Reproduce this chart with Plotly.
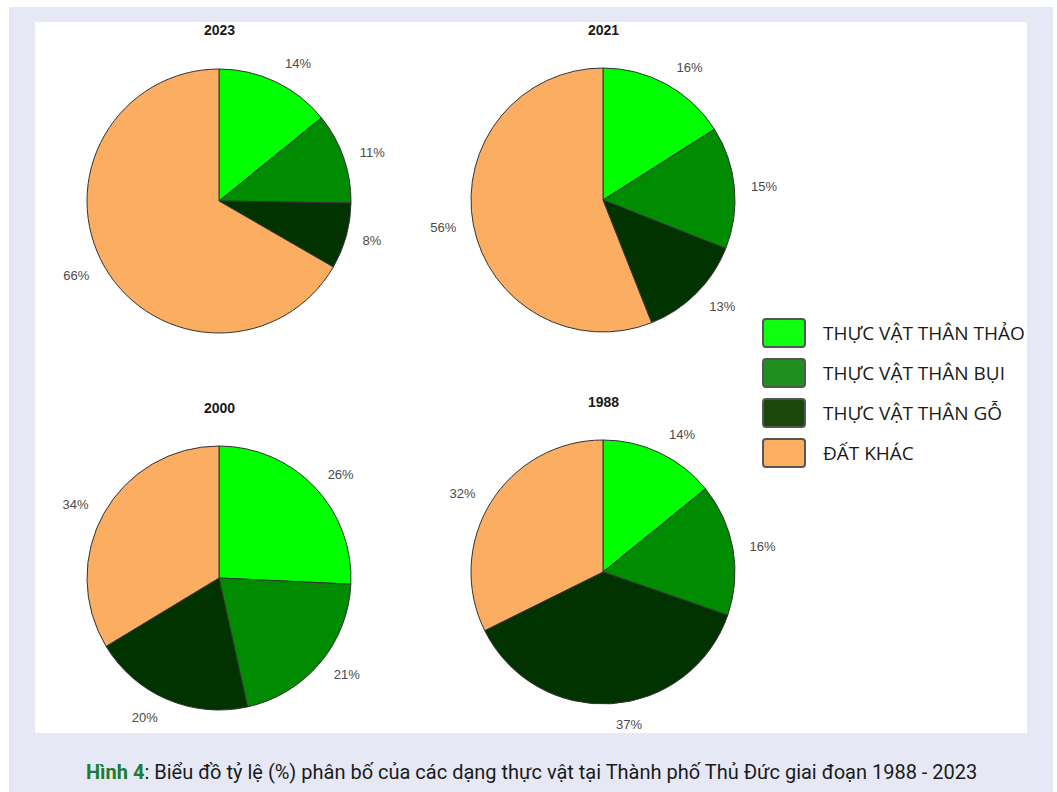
import plotly.graph_objects as go

W, H = 1057, 792

# ---------------- data ----------------
categories = ["THỰC VẬT THÂN THẢO", "THỰC VẬT THÂN BỤI", "THỰC VẬT THÂN GỖ", "ĐẤT KHÁC"]
years = ["2023", "2021", "2000", "1988"]
values_2023 = [14, 11, 8, 66]
values_2021 = [16, 15, 13, 56]
values_2000 = [26, 21, 20, 34]
values_1988 = [14, 16, 37, 32]
caption_bold = "Hình 4"
caption_rest = ": Biểu đồ tỷ lệ (%) phân bố của các dạng thực vật tại Thành phố Thủ Đức giai đoạn 1988 - 2023"

# ---------------- styles / layout ----------------
slice_colors = ["#00ff00", "#008b00", "#003300", "#fbad62"]
legend_colors = ["#10ff10", "#1f8f1f", "#1a470a", "#fdae60"]
bg_color = "#e6e9f5"
series = {"2023": values_2023, "2021": values_2021, "2000": values_2000, "1988": values_1988}
centers = {"2023": (219, 201), "2021": (603, 200), "2000": (219, 578), "1988": (603, 572)}
title_y = {"2023": 30, "2021": 30, "2000": 408, "1988": 402}
R = 132          # pie radius (px)
R_LABEL = 145    # radius of the invisible label ring (px)


def px_x(x):
    return x / W


def px_y(y):
    return 1 - y / H


def dom(cx, cy, r):
    return dict(x=[px_x(cx - r), px_x(cx + r)], y=[px_y(cy + r), px_y(cy - r)])


fig = go.Figure()

for yr in years:
    cx, cy = centers[yr]
    vals = series[yr]
    # visible pie
    fig.add_trace(go.Pie(
        labels=categories,
        values=vals,
        textinfo="none",
        sort=False,
        direction="clockwise",
        rotation=0,
        marker=dict(colors=slice_colors, line=dict(color="#333333", width=1)),
        domain=dom(cx, cy, R),
        showlegend=False,
        hovertemplate="%{label}: %{value}%<extra>" + yr + "</extra>",
        name=yr,
    ))
    # transparent ring carrying the outside percentage labels
    fig.add_trace(go.Pie(
        labels=categories,
        values=vals,
        text=[f"{v}%" for v in vals],
        textinfo="text",
        textposition="outside",
        sort=False,
        direction="clockwise",
        rotation=0,
        marker=dict(colors=["rgba(0,0,0,0)"] * len(vals), line=dict(width=0)),
        textfont=dict(family="Liberation Sans, Arial", size=13, color="#4a4a4a"),
        domain=dom(cx, cy, R_LABEL),
        showlegend=False,
        hoverinfo="skip",
        name=yr + " labels",
    ))

shapes = [
    dict(type="rect", xref="paper", yref="paper", x0=px_x(9), x1=px_x(1053),
         y0=0, y1=px_y(7), fillcolor=bg_color, line=dict(width=0), layer="below"),
    dict(type="rect", xref="paper", yref="paper", x0=px_x(35), x1=px_x(1027),
         y0=px_y(733), y1=px_y(22), fillcolor="white", line=dict(width=0), layer="below"),
]
annotations = []

for yr in years:
    cx, _ = centers[yr]
    annotations.append(dict(
        x=px_x(cx), y=px_y(title_y[yr]), xref="paper", yref="paper", text=f"<b>{yr}</b>",
        showarrow=False, xanchor="center", yanchor="middle",
        font=dict(family="Liberation Sans, Arial", size=14, color="#1a1a1a"),
    ))

# legend (manual, built from categories + colours)
for i, (cat, col) in enumerate(zip(categories, legend_colors)):
    yc = 333 + 40 * i
    x0, x1, y0, y1 = 763, 805, yc - 14, yc + 14
    rr = 3
    path = (f"M {px_x(x0 + rr)},{px_y(y0)} L {px_x(x1 - rr)},{px_y(y0)} "
            f"Q {px_x(x1)},{px_y(y0)} {px_x(x1)},{px_y(y0 + rr)} "
            f"L {px_x(x1)},{px_y(y1 - rr)} Q {px_x(x1)},{px_y(y1)} {px_x(x1 - rr)},{px_y(y1)} "
            f"L {px_x(x0 + rr)},{px_y(y1)} Q {px_x(x0)},{px_y(y1)} {px_x(x0)},{px_y(y1 - rr)} "
            f"L {px_x(x0)},{px_y(y0 + rr)} Q {px_x(x0)},{px_y(y0)} {px_x(x0 + rr)},{px_y(y0)} Z")
    shapes.append(dict(type="path", xref="paper", yref="paper", path=path,
                       fillcolor=col, line=dict(color="#555555", width=2)))
    annotations.append(dict(
        x=px_x(821), y=px_y(yc), xref="paper", yref="paper", text=cat,
        showarrow=False, xanchor="left", yanchor="middle",
        font=dict(family="Open Sans", size=19, color="#1a1a1a"),
    ))

annotations.append(dict(
    x=px_x(531), y=px_y(772), xref="paper", yref="paper",
    text=f"<b><span style='color:#1e7b32'>{caption_bold}</span></b>{caption_rest}",
    showarrow=False, xanchor="center", yanchor="middle",
    font=dict(family="Roboto", size=20, color="#1a1a1a"),
))

fig.update_layout(
    width=W, height=H,
    margin=dict(l=0, r=0, t=0, b=0),
    paper_bgcolor="white", plot_bgcolor="white",
    shapes=shapes, annotations=annotations,
    showlegend=False,
)

fig.write_html("out.html")
